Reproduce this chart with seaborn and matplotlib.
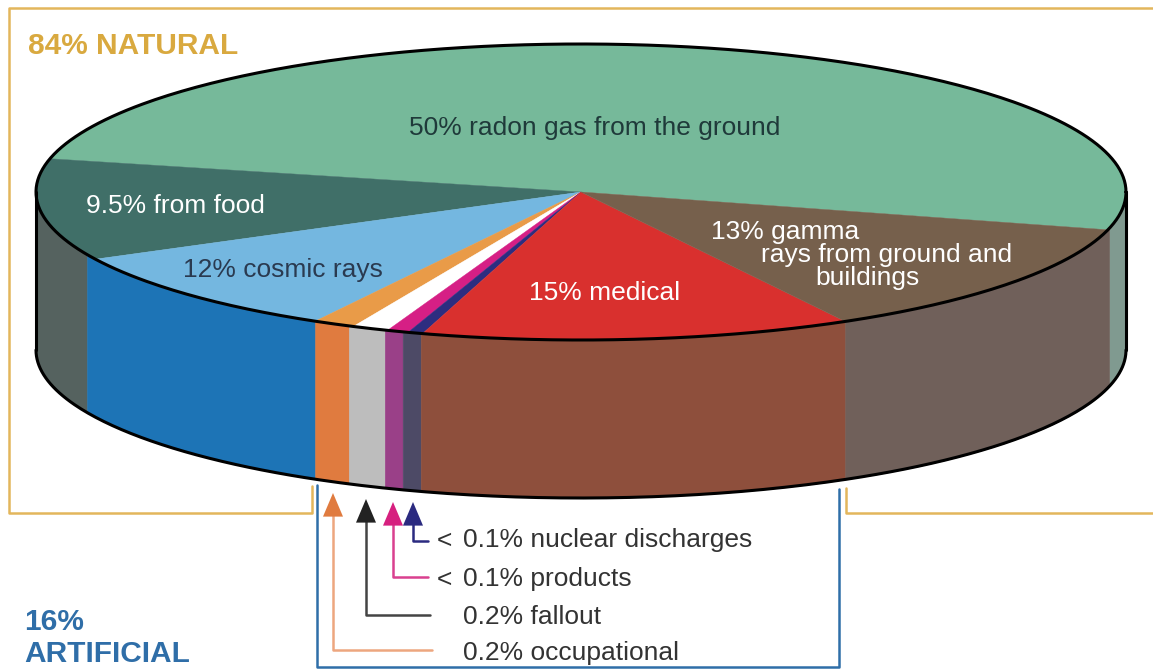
import numpy as np
import matplotlib
matplotlib.use("Agg")
import matplotlib.pyplot as plt
import seaborn as sns

# ---------- DATA ----------
slices = ["radon", "food", "cosmic", "occupational", "fallout", "products", "nuclear", "medical", "gamma"]
# arc each slice takes on the drawn disc, in degrees (read off the picture, not to scale with the %)
top_degrees = [181.8, 40.0, 33.8, 4.5, 3.9, 2.3, 1.6, 45.9, 46.2]
rim_degrees = [182.0, 37.3, 35.8, 4.0, 4.1, 2.0, 2.0, 46.1, 46.7]
top_colors = ["#76b99a", "#406f68", "#74b7e0", "#e99b48", "#ffffff", "#d61f85", "#2d2d80", "#d9302e", "#76604c"]
rim_colors = ["#809a90", "#55625f", "#1d74b6", "#e07b3f", "#bdbdbd", "#9a4088", "#4d4a66", "#8e4f3c", "#70605a"]

small_labels = ["0.1% nuclear discharges", "0.1% products", "0.2% fallout", "0.2% occupational"]
small_prefix = ["<", "<", "", ""]
small_lines = ["#2b2a80", "#d9408f", "#444444", "#eda67f"]

# ---------- SETUP ----------
sns.set_theme(style="white")
plt.rcParams["font.family"] = ["Liberation Sans", "DejaVu Sans"]

W, H = 1153, 670
CX, CY, RX, RY, DEPTH = 581, 192, 545, 148, 158

fig = plt.figure(figsize=(W / 100, H / 100), dpi=100, facecolor="white")
ax = fig.add_axes([0, 0, 1, 1])
px = fig.add_axes([0, 0, 1, 1], facecolor="none")
px.set_xlim(0, W)
px.set_ylim(H, 0)
px.axis("off")

# ---------- TOP OF THE DISC ----------
wedges, _ = ax.pie(top_degrees, colors=sns.color_palette(top_colors), startangle=345.2, radius=1,
                   wedgeprops={"linewidth": 0.3, "zorder": 3})
for w, c in zip(wedges, top_colors):
    w.set_edgecolor(c)
ax.set_aspect("auto")
ax.axis("off")

# ---------- RIM ----------
depth = DEPTH / RY
ends = -14.3 + np.cumsum(rim_degrees)
starts = ends - np.array(rim_degrees)
for a, b, c in zip(starts, ends, rim_colors):
    # radon starts below 0 degrees, so look at it again one turn on
    for shift in (0, 360):
        lo, hi = max(a + shift, 180), min(b + shift, 360)
        if hi <= lo:
            continue
        t = np.radians(np.linspace(lo, hi, 80))
        ax.fill_between(np.cos(t), np.sin(t), np.sin(t) - depth, color=c, linewidth=0.4, zorder=2)

# ---------- OUTLINE ----------
t = np.radians(np.linspace(0, 360, 500))
sns.lineplot(x=np.cos(t), y=np.sin(t), sort=False, estimator=None, color="black", lw=2.2, ax=ax, zorder=5)
t = np.radians(np.linspace(180, 360, 300))
sns.lineplot(x=np.cos(t), y=np.sin(t) - depth, sort=False, estimator=None, color="black", lw=2.2, ax=ax, zorder=5)
ax.plot([-1, -1], [0, -depth], color="black", lw=2.2, zorder=5)
ax.plot([1, 1], [0, -depth], color="black", lw=2.2, zorder=5)
ax.set_xlim(-CX / RX, (W - CX) / RX)
ax.set_ylim(-(H - CY) / RY, CY / RY)

# ---------- BRACKETS ----------
gold = "#e3b65c"
blue = "#2f6ea8"
px.plot([W, 9, 9, 312, 312], [8, 8, 513, 513, 486], color=gold, lw=1.8)
px.plot([846, 846, W], [488, 513, 513], color=gold, lw=1.8)
px.plot([317, 317, 839, 839], [485, 667, 667, 489], color=blue, lw=1.8)

# ---------- ARROWS ----------
arrow_x = [413, 393, 366, 333]
arrow_tip = [502, 502, 499, 493]
arrow_y = [541, 577, 615, 650]
arrow_end = [428, 428, 430, 432]
head_colors = ["#2b2a80", "#d6207f", "#222222", "#e07b3f"]
for x, tip, y, end, lc, hc in zip(arrow_x, arrow_tip, arrow_y, arrow_end, small_lines, head_colors):
    px.plot([x, x, end], [tip + 20, y, y], color=lc, lw=1.8)
    px.annotate("", xy=(x, tip), xytext=(x, tip + 24),
                arrowprops=dict(arrowstyle="-|>,head_length=17,head_width=7.2", mutation_scale=1,
                                color=hc, lw=0, shrinkA=0, shrinkB=0))

# ---------- TEXT ----------
label_y = [540, 579, 617, 653]
for lab, pre, y in zip(small_labels, small_prefix, label_y):
    px.text(463, y, lab, fontsize=19, color="#333333", va="center", ha="left")
    if pre:
        px.text(437, y + 1, pre, fontsize=19, color="#333333", va="center", ha="left")

px.text(28, 46, "84% NATURAL", fontsize=21.5, fontweight="bold", color="#d9a93f", va="center")
px.text(24, 622, "16%", fontsize=21.5, fontweight="bold", color=blue, va="center")
px.text(24, 654, "ARTIFICIAL", fontsize=21.5, fontweight="bold", color=blue, va="center")

px.text(595, 128, "50% radon gas from the ground", fontsize=19, color="#1f3a3a", ha="center", va="center")
px.text(175, 206, "9.5% from food", fontsize=19, color="white", ha="center", va="center")
px.text(283, 270, "12% cosmic rays", fontsize=19, color="#2a3a50", ha="center", va="center")
px.text(605, 293, "15% medical", fontsize=19, color="white", ha="center", va="center")
px.text(785, 232, "13% gamma", fontsize=19, color="white", ha="center", va="center")
px.text(887, 255, "rays from ground and", fontsize=19, color="white", ha="center", va="center")
px.text(867, 278, "buildings", fontsize=19, color="white", ha="center", va="center")

fig.savefig("out.png", dpi=100, facecolor="white")
